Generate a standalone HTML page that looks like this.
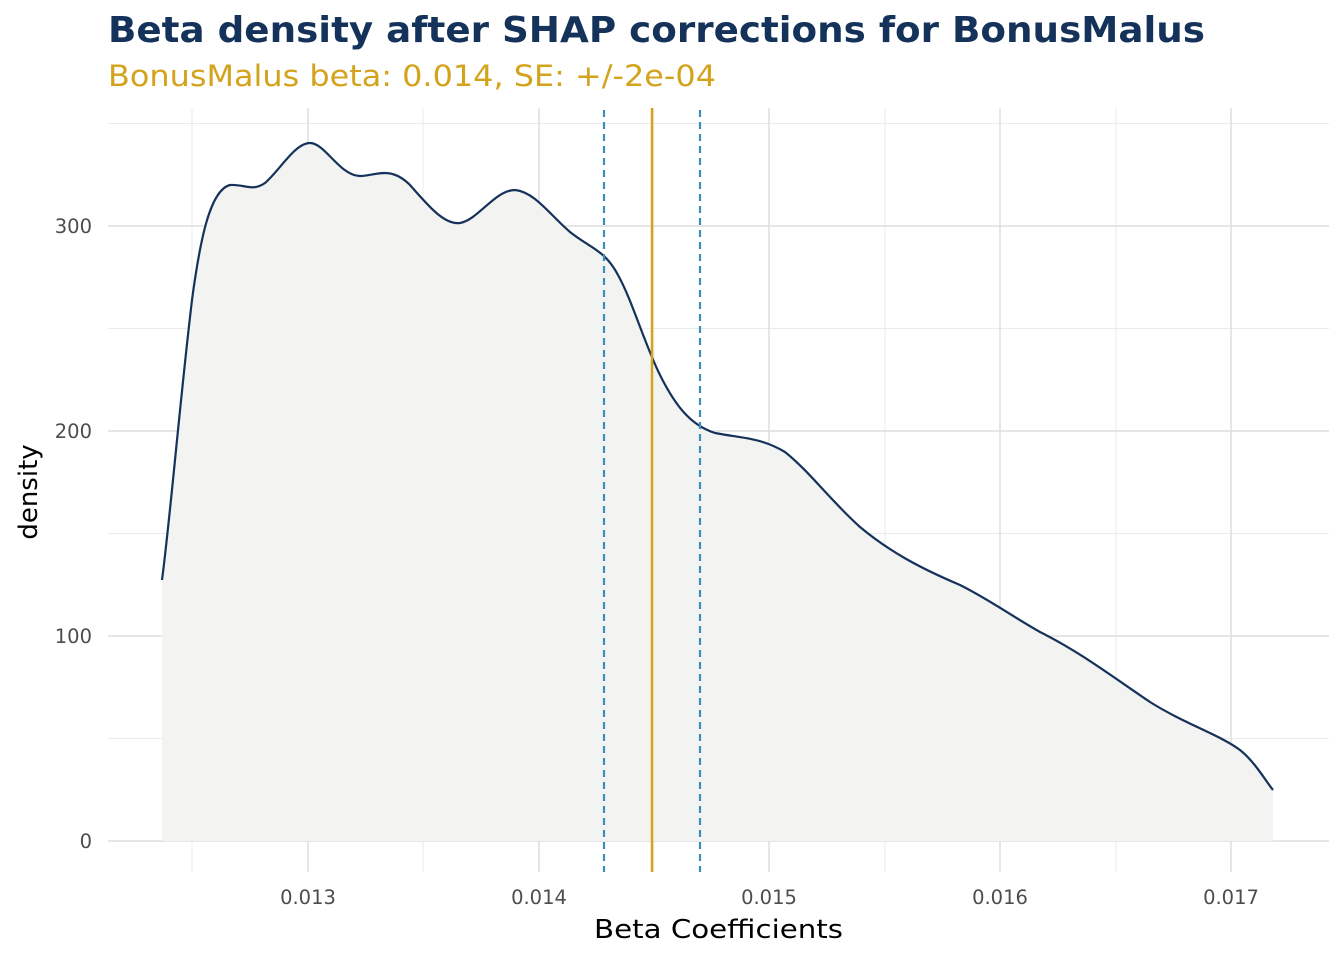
<!DOCTYPE html>
<html><head><style>
body{margin:0;background:#fff;}
svg text{font-family:"DejaVu Sans","Liberation Sans",sans-serif;}
</style></head><body>
<svg width="1344" height="960" xmlns="http://www.w3.org/2000/svg">
<rect width="1344" height="960" fill="#fff"/>
<g stroke="#ebebeb" stroke-width="1">
<line x1="108" x2="1329" y1="738.5" y2="738.5"/><line x1="108" x2="1329" y1="533.5" y2="533.5"/>
<line x1="108" x2="1329" y1="328.5" y2="328.5"/><line x1="108" x2="1329" y1="123.5" y2="123.5"/>
<line y1="108" y2="872" x1="192" x2="192"/><line y1="108" y2="872" x1="423" x2="423"/>
<line y1="108" y2="872" x1="654" x2="654"/><line y1="108" y2="872" x1="885" x2="885"/>
<line y1="108" y2="872" x1="1116" x2="1116"/>
</g>
<g stroke="#dedede" stroke-width="1.5">
<line x1="108" x2="1329" y1="841" y2="841"/><line x1="108" x2="1329" y1="636" y2="636"/>
<line x1="108" x2="1329" y1="431" y2="431"/><line x1="108" x2="1329" y1="226" y2="226"/>
<line y1="108" y2="872" x1="308" x2="308"/><line y1="108" y2="872" x1="539" x2="539"/>
<line y1="108" y2="872" x1="769" x2="769"/><line y1="108" y2="872" x1="1000" x2="1000"/>
<line y1="108" y2="872" x1="1231" x2="1231"/>
</g>
<path d="M162,841 L162,580 C170,520 180,400 192,300 C200,240 210,190 230,185 C245,184 252,192 265,183 C280,170 295,143 310,143 C325,143 340,176 360,176 C375,176 390,165 410,185 C430,208 445,225 460,223 C478,220 495,190 515,190 C535,192 550,215 570,232 C590,248 605,250 618,275 C632,300 645,345 660,375 C675,405 690,425 715,433 C740,438 760,437 785,452 C810,472 830,500 860,527 C890,552 920,568 960,585 C990,600 1010,615 1040,632 C1080,652 1110,675 1150,702 C1185,724 1220,735 1240,750 C1255,762 1265,780 1273,790 L1273,841 Z" fill="#f3f3f1" stroke="none"/>
<path d="M162,580 C170,520 180,400 192,300 C200,240 210,190 230,185 C245,184 252,192 265,183 C280,170 295,143 310,143 C325,143 340,176 360,176 C375,176 390,165 410,185 C430,208 445,225 460,223 C478,220 495,190 515,190 C535,192 550,215 570,232 C590,248 605,250 618,275 C632,300 645,345 660,375 C675,405 690,425 715,433 C740,438 760,437 785,452 C810,472 830,500 860,527 C890,552 920,568 960,585 C990,600 1010,615 1040,632 C1080,652 1110,675 1150,702 C1185,724 1220,735 1240,750 C1255,762 1265,780 1273,790" fill="none" stroke="#14325a" stroke-width="2.2"/>
<line x1="604" x2="604" y1="110" y2="872" stroke="#3a8fbf" stroke-width="2.2" stroke-dasharray="7,5"/>
<line x1="700" x2="700" y1="110" y2="872" stroke="#3a8fbf" stroke-width="2.2" stroke-dasharray="7,5"/>
<line x1="652" x2="652" y1="108" y2="872" stroke="#d4a31c" stroke-width="2.5"/>
<g font-size="19.5" fill="#4d4d4d" text-anchor="end">
<text x="92" y="848">0</text><text x="92" y="643">100</text><text x="92" y="438">200</text><text x="92" y="233">300</text>
</g>
<g font-size="19.5" fill="#4d4d4d" text-anchor="middle">
<text x="308" y="904">0.013</text><text x="539" y="904">0.014</text><text x="769" y="904">0.015</text><text x="1000" y="904">0.016</text><text x="1231" y="904">0.017</text>
</g>
<text x="594" y="938" font-size="26" fill="#000" textLength="249" lengthAdjust="spacingAndGlyphs">Beta Coefficients</text>
<text transform="translate(37,492) rotate(-90)" font-size="26" text-anchor="middle" fill="#000">density</text>
<text x="108" y="42" font-size="36" font-weight="bold" fill="#14325a" textLength="1097" lengthAdjust="spacingAndGlyphs">Beta density after SHAP corrections for BonusMalus</text>
<text x="108" y="86" font-size="29" fill="#d4a31c" textLength="608" lengthAdjust="spacingAndGlyphs">BonusMalus beta: 0.014, SE: +/-2e-04</text>
</svg>
</body></html>
